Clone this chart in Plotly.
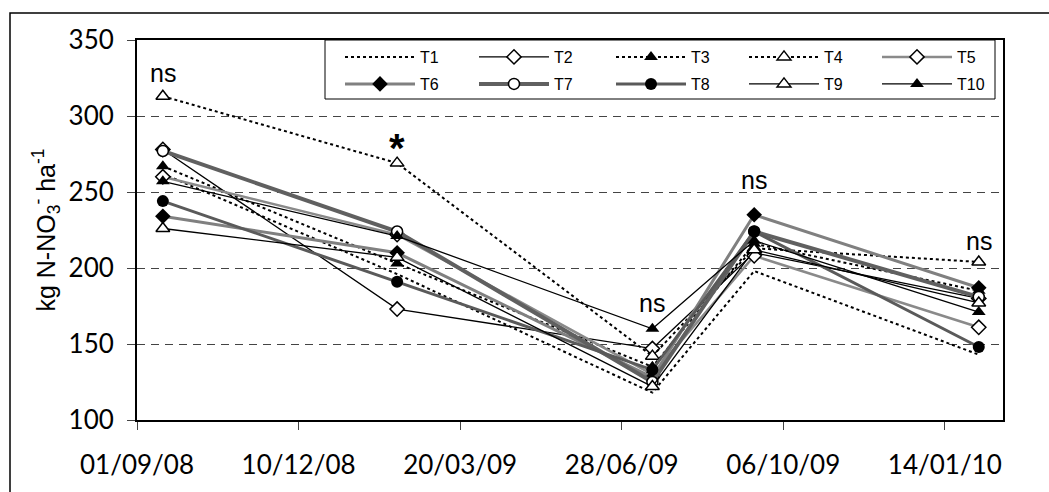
import plotly.graph_objects as go

dates = ["2008-09-17", "2009-02-09", "2009-07-17", "2009-09-18", "2010-02-04"]
series_names = ["T1", "T2", "T3", "T4", "T5", "T6", "T7", "T8", "T9", "T10"]
T1 = [262, 196, 118, 198, 143]
T2 = [278, 173, 147, 210, 180]
T3 = [267, 203, 135, 216, 185]
T4 = [313, 269, 142, 213, 204]
T5 = [260, 222, 130, 208, 161]
T6 = [234, 210, 128, 235, 187]
T7 = [277, 224, 125, 224, 181]
T8 = [244, 191, 133, 224, 148]
T9 = [226, 207, 122, 212, 177]
T10 = [257, 221, 160, 218, 171]
values = [T1, T2, T3, T4, T5, T6, T7, T8, T9, T10]

ann_labels = ["ns", "*", "ns", "ns", "ns"]
ann_y = [328, 279, 177, 258, 218]

tick_dates = ["2008-09-01", "2008-12-10", "2009-03-20", "2009-06-28", "2009-10-06", "2010-01-14"]
tick_text = ["01/09/08", "10/12/08", "20/03/09", "28/06/09", "06/10/09", "14/01/10"]

DOT = "3px,3px"
styles = {
    "T1": dict(line=dict(color="black", width=2, dash=DOT), mode="lines", marker=None),
    "T2": dict(line=dict(color="black", width=1.3), mode="lines+markers",
               marker=dict(symbol="diamond", size=11, color="white", line=dict(color="black", width=1.5))),
    "T3": dict(line=dict(color="black", width=2, dash=DOT), mode="lines+markers",
               marker=dict(symbol="triangle-up", size=12, color="black")),
    "T4": dict(line=dict(color="black", width=2, dash=DOT), mode="lines+markers",
               marker=dict(symbol="triangle-up", size=12, color="white", line=dict(color="black", width=1.5))),
    "T5": dict(line=dict(color="#8a8a8a", width=2.5), mode="lines+markers",
               marker=dict(symbol="diamond", size=11, color="white", line=dict(color="black", width=1.5))),
    "T6": dict(line=dict(color="#808080", width=3), mode="lines+markers",
               marker=dict(symbol="diamond", size=12, color="black")),
    "T7": dict(line=dict(color="#606060", width=4), mode="lines+markers",
               marker=dict(symbol="circle", size=11, color="white", line=dict(color="black", width=1.5))),
    "T8": dict(line=dict(color="#5a5a5a", width=3), mode="lines+markers",
               marker=dict(symbol="circle", size=12, color="black")),
    "T9": dict(line=dict(color="black", width=1.3), mode="lines+markers",
               marker=dict(symbol="triangle-up", size=12, color="white", line=dict(color="black", width=1.5))),
    "T10": dict(line=dict(color="black", width=1.3), mode="lines+markers",
                marker=dict(symbol="triangle-up", size=12, color="black")),
}

# plot area in pixels
L, R, T, B = 137, 1003, 40, 420
PW, PH = R - L, B - T

def px_x(p):
    return (p - L) / PW

def px_y(p):
    return (B - p) / PH

legend_col_px = [340, 474, 611, 744, 877]
legend_row_px = [57, 84]

fig = go.Figure()
layout_legends = {}
for i, (name, vals) in enumerate(zip(series_names, values)):
    st = styles[name]
    lkey = "legend" if i == 0 else f"legend{i + 1}"
    kw = dict(x=dates, y=vals, name=name, mode=st["mode"], line=st["line"], legend=lkey)
    if st["marker"] is not None:
        kw["marker"] = st["marker"]
    fig.add_trace(go.Scatter(**kw))
    layout_legends[lkey] = dict(
        x=px_x(legend_col_px[i % 5]), y=px_y(legend_row_px[i // 5]),
        xanchor="left", yanchor="middle", orientation="v",
        bgcolor="rgba(0,0,0,0)", borderwidth=0, itemwidth=70,
        font=dict(family="Liberation Sans, Arial", size=16, color="black"),
        itemclick=False, itemdoubleclick=False,
    )

for d, lab, yv in zip(dates, ann_labels, ann_y):
    fig.add_annotation(x=d, y=yv, text=("<b>*</b>" if lab == "*" else lab), showarrow=False,
                       font=dict(family="Liberation Sans, Arial", size=40 if lab == "*" else 25, color="black"),
                       xref="x", yref="y")

fig.update_layout(
    width=1049, height=492,
    margin=dict(l=L, r=1049 - R, t=T, b=492 - B),
    paper_bgcolor="white", plot_bgcolor="white",
    showlegend=True,
    font=dict(family="Lato, sans-serif", color="black"),
    xaxis=dict(
        type="date", range=["2008-09-01", "2010-02-19"],
        tickvals=tick_dates, ticktext=tick_text,
        tickfont=dict(family="Lato", size=26, color="black"),
        ticks="outside", ticklen=8, tickcolor="#444", showgrid=False, ticklabelstandoff=13,
        showline=True, linecolor="black", linewidth=1.5, mirror=True, zeroline=False,
    ),
    yaxis=dict(
        range=[100, 350], tickvals=[100, 150, 200, 250, 300, 350],
        tickfont=dict(family="Lato", size=26, color="black"),
        ticks="outside", ticklen=8, tickcolor="#444", ticklabelstandoff=8,
        showgrid=True, gridcolor="#444", gridwidth=1, griddash="8px,6px",
        showline=True, linecolor="black", linewidth=2, mirror=True, zeroline=False,
        title=dict(text="kg N-NO<sub>3</sub><sup>-</sup> ha<sup>-1</sup>",
                   font=dict(family="Liberation Sans, Arial", size=25, color="black"), standoff=6),
    ),
    **layout_legends,
)

# legend frame
fig.add_shape(type="rect", xref="paper", yref="paper",
              x0=px_x(325), x1=px_x(995), y0=px_y(99), y1=px_y(40),
              line=dict(color="black", width=1), fillcolor="rgba(0,0,0,0)", layer="above")
# outer chart frame
fig.add_shape(type="rect", xref="paper", yref="paper",
              x0=px_x(10), x1=px_x(1060), y0=px_y(500), y1=px_y(13),
              line=dict(color="black", width=1.5), fillcolor="rgba(0,0,0,0)", layer="below")

fig.write_html("out.html", config={"displayModeBar": False},
               post_script="document.body.style.margin='0';")
